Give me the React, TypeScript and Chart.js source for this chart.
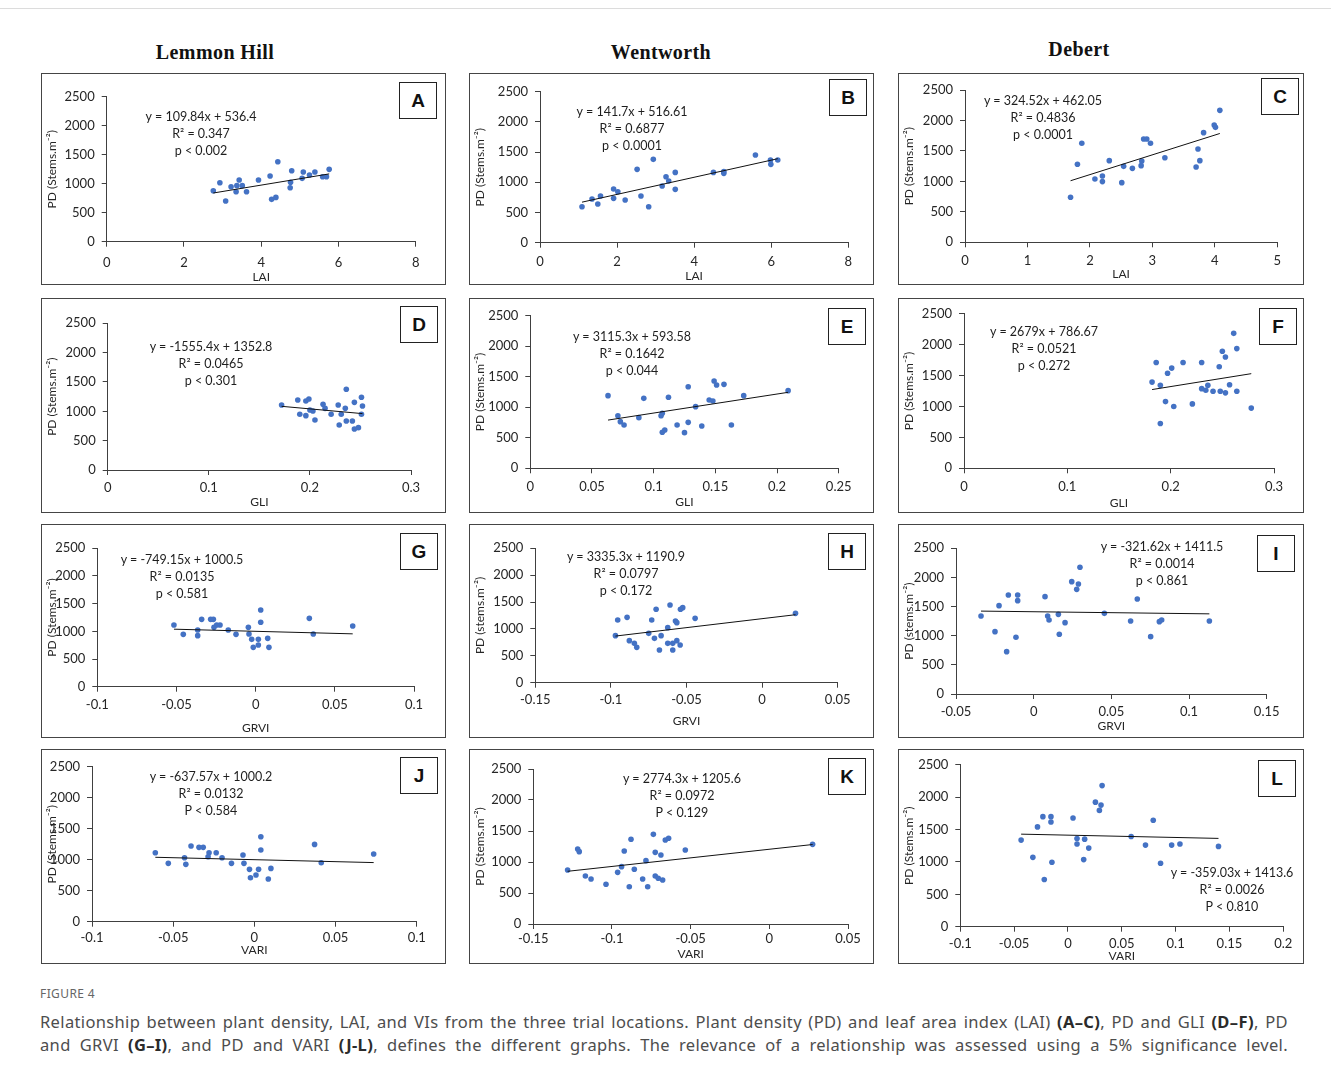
import React, { useEffect, useRef } from "react";
import { Chart, registerables } from "chart.js";

Chart.register(...registerables);

const FONT = "Lato, 'Open Sans', Arial, sans-serif";
const BLUE = "#4472C4";
const AXIS = "#404040";
const TXT = "#262626";

// ---------- headings / titles ----------
const SITES = ["Lemmon Hill", "Wentworth", "Debert"];
const Y_TITLE = "PD (Stems.m⁻²)";
const Y_TITLE_LOWER = "PD (stems.m⁻²)";
const Y_AXIS = [0, 2500, 500];

// ---------- A: Lemmon Hill, LAI ----------
const A_X = [2.93, 2.76, 3.08, 3.22, 3.37, 3.35, 3.43, 3.51, 3.62, 3.93, 4.23, 4.27, 4.38, 4.43, 4.76, 4.75, 4.79, 5.06, 5.09, 5.25, 5.39, 5.59, 5.69, 5.76];
const A_Y = [1017, 879, 701, 948, 966, 862, 1063, 966, 862, 1063, 1132, 730, 764, 1379, 1023, 931, 1224, 1092, 1201, 1149, 1201, 1121, 1121, 1247];
const A_FIT = [109.84, 536.4];
const A_XAXIS = [0, 8, 2];
const A_EQ = ["y = 109.84x + 536.4", "R² = 0.347", "p < 0.002"];

// ---------- B: Wentworth, LAI ----------
const B_X = [1.09, 1.35, 1.5, 1.57, 1.91, 1.91, 2.02, 2.21, 2.52, 2.62, 2.82, 2.94, 3.17, 3.27, 3.34, 3.51, 3.51, 4.5, 4.77, 4.77, 5.59, 5.98, 5.99, 6.17];
const B_Y = [596, 723, 640, 773, 889, 734, 844, 706, 1214, 773, 596, 1380, 938, 1093, 1021, 1164, 883, 1164, 1148, 1180, 1451, 1369, 1297, 1369];
const B_FIT = [141.7, 516.61];
const B_XAXIS = [0, 8, 2];
const B_EQ = ["y = 141.7x + 516.61", "R² = 0.6877", "p < 0.0001"];

// ---------- C: Debert, LAI ----------
const C_X = [1.69, 1.8, 1.87, 2.08, 2.2, 2.2, 2.31, 2.51, 2.54, 2.68, 2.82, 2.83, 2.86, 2.91, 2.97, 3.2, 3.7, 3.73, 3.76, 3.82, 3.99, 4.01, 4.08];
const C_Y = [739, 1280, 1625, 1039, 1089, 996, 1340, 979, 1247, 1214, 1258, 1335, 1696, 1696, 1625, 1389, 1236, 1532, 1340, 1800, 1926, 1887, 2166];
const C_FIT = [324.52, 462.05];
const C_XAXIS = [0, 5, 1];
const C_EQ = ["y = 324.52x + 462.05", "R² = 0.4836", "p < 0.0001"];

// ---------- D: Lemmon Hill, GLI ----------
const D_X = [0.172, 0.188, 0.19, 0.196, 0.196, 0.199, 0.2, 0.203, 0.205, 0.213, 0.215, 0.221, 0.228, 0.229, 0.231, 0.235, 0.236, 0.236, 0.242, 0.244, 0.244, 0.248, 0.251, 0.252, 0.251];
const D_Y = [1108, 1193, 949, 1176, 926, 1210, 1023, 1006, 852, 1119, 1051, 949, 1108, 767, 949, 1051, 835, 1375, 835, 1153, 699, 722, 1239, 1091, 949];
const D_FIT = [-1555.4, 1352.8];
const D_XAXIS = [0, 0.3, 0.1];
const D_EQ = ["y = -1555.4x + 1352.8", "R² = 0.0465", "p < 0.301"];

// ---------- E: Wentworth, GLI ----------
const E_X = [0.063, 0.071, 0.073, 0.076, 0.088, 0.092, 0.106, 0.107, 0.107, 0.109, 0.112, 0.119, 0.125, 0.128, 0.128, 0.134, 0.139, 0.145, 0.148, 0.149, 0.151, 0.157, 0.163, 0.173, 0.209];
const E_Y = [1190, 862, 764, 710, 830, 1146, 862, 901, 590, 628, 1163, 710, 584, 1337, 753, 1010, 693, 1119, 1103, 1430, 1365, 1375, 710, 1190, 1272];
const E_FIT = [3115.3, 593.58];
const E_XAXIS = [0, 0.25, 0.05];
const E_EQ = ["y = 3115.3x + 593.58", "R² = 0.1642", "p < 0.044"];

// ---------- F: Debert, GLI ----------
const F_X = [0.182, 0.186, 0.19, 0.19, 0.195, 0.197, 0.201, 0.203, 0.212, 0.221, 0.23, 0.23, 0.234, 0.236, 0.241, 0.247, 0.248, 0.25, 0.253, 0.253, 0.257, 0.261, 0.264, 0.264, 0.278];
const F_Y = [1395, 1711, 1342, 726, 1079, 1537, 1621, 1000, 1711, 1042, 1711, 1289, 1263, 1342, 1247, 1642, 1247, 1895, 1800, 1221, 1353, 2184, 1937, 1247, 974];
const F_FIT = [2679, 786.67];
const F_XAXIS = [0, 0.3, 0.1];
const F_EQ = ["y = 2679x + 786.67", "R² = 0.0521", "p < 0.272"];

// ---------- G: Lemmon Hill, GRVI ----------
const G_X = [-0.0516, -0.0457, -0.0366, -0.0366, -0.0341, -0.0284, -0.0267, -0.0263, -0.0246, -0.0225, -0.0173, -0.0124, -0.0046, -0.0042, -0.0025, -0.0015, 0.0017, 0.0017, 0.0032, 0.0032, 0.0076, 0.0084, 0.0339, 0.0364, 0.0613];
const G_Y = [1114, 946, 1024, 922, 1217, 1217, 1217, 1072, 1114, 1114, 1024, 946, 1072, 952, 855, 711, 855, 753, 1386, 1163, 873, 711, 1235, 952, 1096];
const G_FIT = [-749.15, 1000.5];
const G_XAXIS = [-0.1, 0.1, 0.05];
const G_EQ = ["y = -749.15x + 1000.5", "R² = 0.0135", "p < 0.581"];

// ---------- H: Wentworth, GRVI ----------
const H_X = [-0.097, -0.0955, -0.0893, -0.0878, -0.0845, -0.0829, -0.075, -0.073, -0.0712, -0.0701, -0.0679, -0.0668, -0.0624, -0.0624, -0.0609, -0.0591, -0.0591, -0.0573, -0.0564, -0.0564, -0.0542, -0.054, -0.0525, -0.0443, 0.0221];
const H_Y = [875, 1166, 1216, 782, 732, 658, 918, 1166, 825, 1365, 608, 875, 1024, 732, 1445, 732, 608, 1148, 1117, 782, 701, 1365, 1396, 1197, 1290];
const H_FIT = [3335.3, 1190.9];
const H_XAXIS = [-0.15, 0.05, 0.05];
const H_EQ = ["y = 3335.3x + 1190.9", "R² = 0.0797", "p < 0.172"];

// ---------- I: Debert, GRVI ----------
const I_X = [-0.0339, -0.0249, -0.0223, -0.0174, -0.0163, -0.0114, -0.0103, -0.0103, 0.0073, 0.009, 0.0099, 0.0159, 0.0165, 0.0202, 0.0245, 0.0277, 0.0288, 0.0298, 0.0455, 0.0624, 0.0667, 0.0753, 0.0809, 0.0824, 0.1131];
const I_Y = [1339, 1070, 1516, 727, 1699, 973, 1699, 1602, 1670, 1339, 1270, 1367, 1024, 1224, 1928, 1796, 1888, 2174, 1384, 1253, 1630, 984, 1241, 1270, 1253];
const I_FIT = [-321.62, 1411.5];
const I_XAXIS = [-0.05, 0.15, 0.05];
const I_EQ = ["y = -321.62x + 1411.5", "R² = 0.0014", "p < 0.861"];

// ---------- J: Lemmon Hill, VARI ----------
const J_X = [-0.061, -0.053, -0.043, -0.0422, -0.039, -0.0341, -0.0315, -0.0285, -0.0279, -0.0235, -0.0199, -0.0141, -0.007, -0.0064, -0.003, -0.0024, 0.001, 0.0026, 0.004, 0.004, 0.0086, 0.0102, 0.0371, 0.0412, 0.0735];
const J_Y = [1113, 941, 1032, 925, 1220, 1199, 1199, 1048, 1113, 1113, 1032, 941, 1075, 941, 844, 710, 753, 844, 1371, 1156, 688, 860, 1247, 952, 1091];
const J_FIT = [-637.57, 1000.2];
const J_XAXIS = [-0.1, 0.1, 0.05];
const J_EQ = ["y = -637.57x + 1000.2", "R² = 0.0132", "P < 0.584"];

// ---------- K: Wentworth, VARI ----------
const K_X = [-0.1282, -0.1218, -0.1208, -0.1169, -0.1133, -0.1038, -0.0964, -0.0939, -0.0922, -0.089, -0.0879, -0.0858, -0.0805, -0.0784, -0.0773, -0.0737, -0.0725, -0.0725, -0.0706, -0.0689, -0.0678, -0.0661, -0.064, -0.0534, 0.0275];
const K_Y = [871, 1210, 1167, 774, 726, 640, 833, 925, 1177, 602, 1366, 882, 726, 1022, 602, 1446, 1156, 774, 737, 1113, 710, 1355, 1382, 1194, 1285];
const K_FIT = [2774.3, 1205.6];
const K_XAXIS = [-0.15, 0.05, 0.05];
const K_EQ = ["y = 2774.3x + 1205.6", "R² = 0.0972", "P < 0.129"];

// ---------- L: Debert, VARI ----------
const L_X = [-0.0435, -0.0326, -0.0283, -0.0233, -0.022, -0.0158, -0.0158, -0.0149, 0.0047, 0.0084, 0.0084, 0.0155, 0.0146, 0.0193, 0.0255, 0.0292, 0.0307, 0.0317, 0.0587, 0.072, 0.0792, 0.086, 0.0963, 0.104, 0.1398];
const L_Y = [1337, 1071, 1541, 1699, 730, 1699, 1617, 995, 1679, 1362, 1276, 1352, 1036, 1214, 1923, 1796, 1878, 2179, 1393, 1260, 1643, 980, 1260, 1276, 1240];
const L_FIT = [-359.03, 1413.6];
const L_XAXIS = [-0.1, 0.2, 0.05];
const L_EQ = ["y = -359.03x + 1413.6", "R² = 0.0026", "P < 0.810"];

// ---------- caption ----------
const CAPTION_LABEL = "FIGURE 4";

type Spec = {
  letter: string;
  xs: number[];
  ys: number[];
  fit: number[];
  xAxis: number[];
  xTitle: string;
  yTitle: string;
  eq: string[];
};

const PANELS: Spec[] = [
  { letter: "A", xs: A_X, ys: A_Y, fit: A_FIT, xAxis: A_XAXIS, xTitle: "LAI", yTitle: Y_TITLE, eq: A_EQ },
  { letter: "B", xs: B_X, ys: B_Y, fit: B_FIT, xAxis: B_XAXIS, xTitle: "LAI", yTitle: Y_TITLE, eq: B_EQ },
  { letter: "C", xs: C_X, ys: C_Y, fit: C_FIT, xAxis: C_XAXIS, xTitle: "LAI", yTitle: Y_TITLE, eq: C_EQ },
  { letter: "D", xs: D_X, ys: D_Y, fit: D_FIT, xAxis: D_XAXIS, xTitle: "GLI", yTitle: Y_TITLE, eq: D_EQ },
  { letter: "E", xs: E_X, ys: E_Y, fit: E_FIT, xAxis: E_XAXIS, xTitle: "GLI", yTitle: Y_TITLE, eq: E_EQ },
  { letter: "F", xs: F_X, ys: F_Y, fit: F_FIT, xAxis: F_XAXIS, xTitle: "GLI", yTitle: Y_TITLE, eq: F_EQ },
  { letter: "G", xs: G_X, ys: G_Y, fit: G_FIT, xAxis: G_XAXIS, xTitle: "GRVI", yTitle: Y_TITLE, eq: G_EQ },
  { letter: "H", xs: H_X, ys: H_Y, fit: H_FIT, xAxis: H_XAXIS, xTitle: "GRVI", yTitle: Y_TITLE_LOWER, eq: H_EQ },
  { letter: "I", xs: I_X, ys: I_Y, fit: I_FIT, xAxis: I_XAXIS, xTitle: "GRVI", yTitle: Y_TITLE_LOWER, eq: I_EQ },
  { letter: "J", xs: J_X, ys: J_Y, fit: J_FIT, xAxis: J_XAXIS, xTitle: "VARI", yTitle: Y_TITLE, eq: J_EQ },
  { letter: "K", xs: K_X, ys: K_Y, fit: K_FIT, xAxis: K_XAXIS, xTitle: "VARI", yTitle: Y_TITLE, eq: K_EQ },
  { letter: "L", xs: L_X, ys: L_Y, fit: L_FIT, xAxis: L_XAXIS, xTitle: "VARI", yTitle: Y_TITLE, eq: L_EQ },
];

// ---------- layout (page pixels) ----------
type Lay = {
  box: number[]; // x, y, w, h
  area: number[]; // left, right, top, bottom of the plot area
  xTitleY: number;
  tickGap: number;
  eq: number[]; // centre x, first line centre y
  tag: number[]; // letter box left, top
};

const LAYOUT: Record<string, Lay> = {
  A: { box: [41, 73, 405, 212], area: [106.7, 415.7, 96.7, 241.7], xTitleY: 277, tickGap: 21, eq: [201, 116.7], tag: [399, 82] },
  B: { box: [469, 73, 405, 212], area: [540, 848.3, 91.7, 242.7], xTitleY: 276, tickGap: 19, eq: [632, 111.7], tag: [829, 79] },
  C: { box: [898, 73, 406, 212], area: [965, 1277.3, 90, 242.3], xTitleY: 274, tickGap: 18.5, eq: [1043, 100.7], tag: [1261, 78] },
  D: { box: [41, 298, 405, 215], area: [107.7, 411, 323.3, 470], xTitleY: 502, tickGap: 18, eq: [211, 346.7], tag: [400, 306] },
  E: { box: [469, 298, 405, 215], area: [530.3, 838.7, 315.7, 468.3], xTitleY: 502, tickGap: 19, eq: [632, 336.7], tag: [828, 308] },
  F: { box: [898, 298, 406, 215], area: [964, 1274, 310, 468.3], xTitleY: 503, tickGap: 19, eq: [1044, 331], tag: [1259, 308] },
  G: { box: [41, 524, 405, 214], area: [97.3, 414, 548.3, 686.7], xTitleY: 728, tickGap: 18, eq: [182, 559.3], tag: [400, 533] },
  H: { box: [469, 524, 405, 214], area: [535.3, 837.7, 548.3, 682.7], xTitleY: 721, tickGap: 17, eq: [626, 556.7], tag: [828, 533] },
  I: { box: [898, 524, 406, 214], area: [956, 1266.7, 548.3, 694], xTitleY: 726, tickGap: 18, eq: [1162, 546], tag: [1257, 535] },
  J: { box: [41, 749, 405, 215], area: [92, 416.7, 766.7, 921.7], xTitleY: 950, tickGap: 16, eq: [211, 776.7], tag: [400, 757] },
  K: { box: [469, 749, 405, 215], area: [533.3, 848, 769, 924], xTitleY: 954, tickGap: 15, eq: [682, 778.3], tag: [828, 758] },
  L: { box: [898, 749, 406, 215], area: [960.3, 1283.3, 763.3, 926.7], xTitleY: 956, tickGap: 17, eq: [1232, 872.3], tag: [1258, 760] },
};

const TICK_SIZE = 13;
const TITLE_SIZE = 12;

function Panel({ spec, lay }: { spec: Spec; lay: Lay }) {
  const ref = useRef<HTMLCanvasElement>(null);
  const [bx, by, bw, bh] = lay.box;
  const iw = bw - 2;
  const ih = bh - 2;

  useEffect(() => {
    if (!ref.current) return;
    const [al, ar, at, ab] = lay.area;
    const l = al - bx - 1;
    const r = ar - bx - 1;
    const t = at - by - 1;
    const b = ab - by - 1;
    const lh = TITLE_SIZE * 1.2;
    const xTitleOffset = ih - (lay.xTitleY - by - 1);
    const xTickPad = Math.max(0, lay.tickGap - 5 - (TICK_SIZE * 1.2) / 2);

    const pts = spec.xs.map((x, i) => ({ x, y: spec.ys[i] }));
    const x0 = Math.min(...spec.xs);
    const x1 = Math.max(...spec.xs);
    const trend = [x0, x1].map((x) => ({ x, y: spec.fit[0] * x + spec.fit[1] }));
    const fmt = (v: any) => String(Math.round(Number(v) * 1000) / 1000);

    const chart = new Chart(ref.current, {
      type: "scatter",
      data: {
        datasets: [
          {
            data: pts,
            backgroundColor: BLUE,
            borderColor: BLUE,
            borderWidth: 0,
            pointRadius: 2.8,
            order: 1,
          },
          {
            type: "line",
            data: trend,
            borderColor: "#111",
            borderWidth: 1,
            pointRadius: 0,
            showLine: true,
            fill: false,
            order: 0,
          },
        ],
      } as any,
      options: {
        animation: false,
        responsive: false,
        maintainAspectRatio: false,
        events: [],
        layout: { padding: { left: 0, top: t, right: iw - r, bottom: 0 } },
        plugins: { legend: { display: false }, tooltip: { enabled: false } },
        scales: {
          x: {
            type: "linear",
            min: spec.xAxis[0],
            max: spec.xAxis[1],
            ticks: {
              stepSize: spec.xAxis[2],
              font: { family: FONT, size: TICK_SIZE },
              color: TXT,
              padding: xTickPad,
              maxRotation: 0,
              autoSkip: false,
              callback: fmt,
            },
            grid: { display: true, drawOnChartArea: false, drawTicks: true, tickLength: 5, color: AXIS, lineWidth: 1 },
            border: { display: true, color: AXIS, width: 1 },
            title: {
              display: true,
              text: spec.xTitle,
              font: { family: FONT, size: TITLE_SIZE },
              color: TXT,
              padding: { top: 0, bottom: Math.max(0, xTitleOffset - lh / 2) },
            },
            afterFit: (s: any) => {
              s.height = ih - b;
            },
          },
          y: {
            type: "linear",
            min: Y_AXIS[0],
            max: Y_AXIS[1],
            ticks: {
              stepSize: Y_AXIS[2],
              font: { family: FONT, size: TICK_SIZE },
              color: TXT,
              padding: 7,
              callback: (v: any) => String(v),
            },
            grid: { display: true, drawOnChartArea: false, drawTicks: true, tickLength: 5, color: AXIS, lineWidth: 1 },
            border: { display: true, color: AXIS, width: 1 },
            title: {
              display: true,
              text: spec.yTitle,
              font: { family: FONT, size: TITLE_SIZE },
              color: TXT,
              padding: { top: Math.max(0, 10 - lh / 2), bottom: 0 },
            },
            afterFit: (s: any) => {
              s.width = l;
            },
          },
        },
      } as any,
    });
    return () => chart.destroy();
  }, []);

  return (
    <>
      <div
        style={{
          position: "absolute",
          left: bx,
          top: by,
          width: bw,
          height: bh,
          border: "1px solid #454545",
          boxSizing: "border-box",
          background: "#fff",
        }}
      >
        <canvas
          ref={ref}
          width={iw}
          height={ih}
          style={{ position: "absolute", left: 0, top: 0, width: iw, height: ih }}
        />
      </div>
      <div
        style={{
          position: "absolute",
          left: lay.eq[0] - 120,
          top: lay.eq[1] - 8.5,
          width: 240,
          textAlign: "center",
          fontFamily: FONT,
          fontSize: 12.5,
          lineHeight: "17px",
          color: "#1e1e1e",
          whiteSpace: "pre",
        }}
      >
        {spec.eq.map((s, i) => (
          <div key={i}>{s}</div>
        ))}
      </div>
      <div
        style={{
          position: "absolute",
          left: lay.tag[0],
          top: lay.tag[1],
          width: 38,
          height: 37,
          border: "1.5px solid #222",
          boxSizing: "border-box",
          background: "#fff",
          display: "flex",
          alignItems: "center",
          justifyContent: "center",
          fontFamily: "Arial, 'Liberation Sans', sans-serif",
          fontWeight: 700,
          fontSize: 19,
          color: "#111",
        }}
      >
        {spec.letter}
      </div>
    </>
  );
}

const SITE_POS = [
  [215, 52],
  [661, 52],
  [1079, 49],
];

export default function App() {
  const bold = { fontWeight: 700, color: "#2b2b2b" } as const;
  return (
    <div
      style={{
        position: "absolute",
        left: 0,
        top: 0,
        width: 1331,
        height: 1077,
        background: "#fff",
        overflow: "hidden",
      }}
    >
      <div style={{ position: "absolute", left: 0, top: 8, width: 1331, height: 1, background: "#dcdcdc" }} />
      {SITES.map((s, i) => (
        <div
          key={s}
          style={{
            position: "absolute",
            left: SITE_POS[i][0] - 150,
            top: SITE_POS[i][1] - 12,
            width: 300,
            textAlign: "center",
            fontFamily: "'Liberation Serif', 'Times New Roman', serif",
            fontWeight: 700,
            fontSize: 20,
            lineHeight: "24px",
            letterSpacing: 0.4,
            color: "#111",
          }}
        >
          {s}
        </div>
      ))}
      {PANELS.map((p) => (
        <Panel key={p.letter} spec={p} lay={LAYOUT[p.letter]} />
      ))}
      <div
        style={{
          position: "absolute",
          left: 40,
          top: 986,
          fontFamily: "'Noto Sans', 'Open Sans', sans-serif",
          fontSize: 12,
          lineHeight: "16px",
          letterSpacing: 0.4,
          color: "#666",
        }}
      >
        {CAPTION_LABEL}
      </div>
      <div
        style={{
          position: "absolute",
          left: 40,
          top: 1010,
          width: 1248,
          fontFamily: "'Noto Sans', 'Open Sans', sans-serif",
          fontSize: 16.5,
          lineHeight: "23px",
          letterSpacing: 0.35,
          color: "#4d4d4d",
          textAlign: "justify",
          textAlignLast: "justify" as any,
        }}
      >
        <div>
          Relationship between plant density, LAI, and VIs from the three trial locations. Plant density (PD) and leaf
          area index (LAI) <span style={bold}>(A–C)</span>, PD and GLI <span style={bold}>(D–F)</span>, PD
        </div>
        <div>
          and GRVI <span style={bold}>(G–I)</span>, and PD and VARI <span style={bold}>(J-L)</span>, defines the
          different graphs. The relevance of a relationship was assessed using a 5% significance level.
        </div>
      </div>
    </div>
  );
}
